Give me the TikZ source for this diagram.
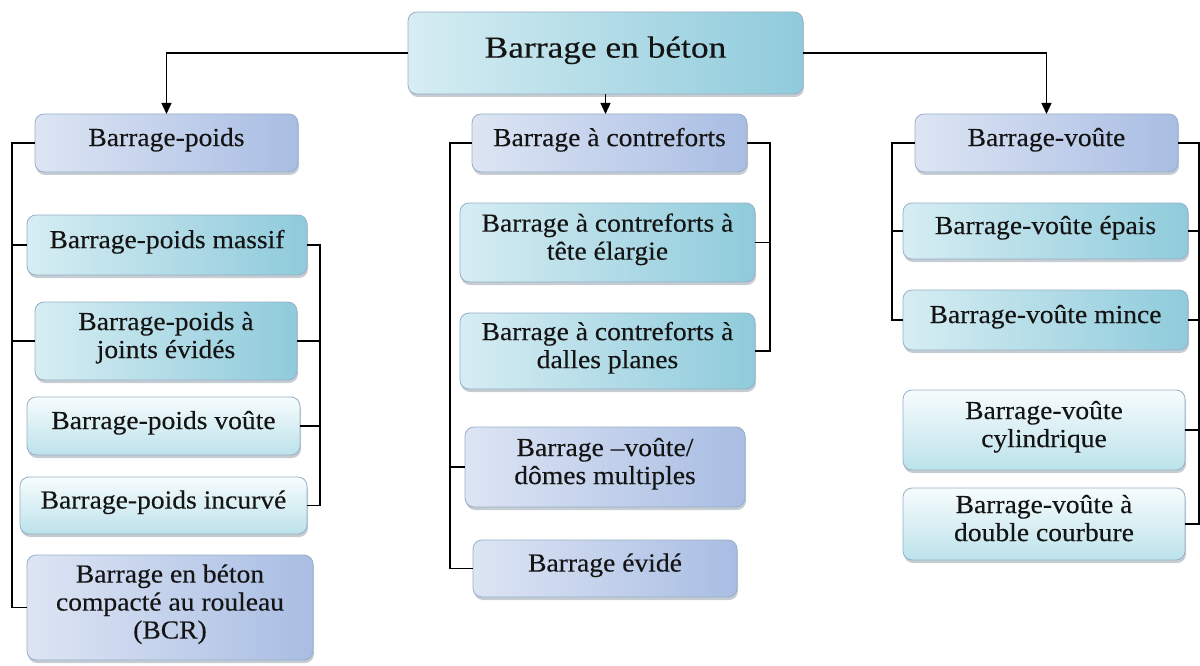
\documentclass[tikz,border=0pt]{standalone}
\usepackage{fontspec}
\setmainfont{Liberation Serif}[FakeStretch=1.06,FakeBold=0.25]
\newfontfamily\titlefont{Liberation Serif}[FakeStretch=1.16,FakeBold=0.25]
\usetikzlibrary{arrows.meta,shadows}
\definecolor{lavL}{HTML}{DDE5F4}
\definecolor{lavR}{HTML}{A9BDE3}
\definecolor{tealL}{HTML}{D6EDF3}
\definecolor{tealR}{HTML}{8FCBDB}
\definecolor{paleT}{HTML}{F7FCFD}
\definecolor{paleB}{HTML}{BCE2EB}
\definecolor{boxline}{HTML}{97B0C6}
\definecolor{shadowc}{HTML}{7F8E9C}
\definecolor{txt}{HTML}{141414}
\begin{document}
\begin{tikzpicture}[x=1pt,y=-1pt,
  box/.style={draw=boxline, line width=0.8pt, rounded corners=9pt, align=center,
    inner sep=2pt, outer sep=0pt, text=txt, font=\fontsize{26}{28}\selectfont,
    execute at end node={\rule[-12pt]{0pt}{1pt}},
    drop shadow={shadow xshift=1pt, shadow yshift=-3pt, opacity=0.45, fill=shadowc}},
  lav/.style={box, left color=lavL, right color=lavR},
  teal/.style={box, left color=tealL, right color=tealR},
  pale/.style={box, top color=paleT, bottom color=paleB},
  conn/.style={line width=1.3pt, black},
  arr/.style={conn, -{Triangle[width=10pt,length=11pt]}}
]
\useasboundingbox (0,0) rectangle (1200,666);

% top
\node[teal, font=\titlefont\fontsize{30.5}{34}\selectfont, minimum width=395pt, minimum height=82pt] (top) at (605.5,53) {Barrage en béton};

% heads
\node[lav, minimum width=263pt, minimum height=58pt] (poids) at (166.5,143) {Barrage-poids};
\node[lav, minimum width=275pt, minimum height=58pt] (cf) at (609.5,143) {Barrage à contreforts};
\node[lav, minimum width=263pt, minimum height=58pt] (voute) at (1046.5,143) {Barrage-voûte};

% left column
\node[teal, minimum width=280pt, minimum height=60pt] (massif) at (167,245) {Barrage-poids massif};
\node[teal, minimum width=262pt, minimum height=78pt] (joints) at (166,341) {Barrage-poids à\\joints évidés};
\node[pale, minimum width=273pt, minimum height=58pt] (pvoute) at (163.5,426) {Barrage-poids voûte};
\node[pale, minimum width=287pt, minimum height=57pt] (incurve) at (163.5,505.5) {Barrage-poids incurvé};
\node[lav, minimum width=286pt, minimum height=105pt] (bcr) at (170,607.5) {Barrage en béton\\compacté au rouleau\\(BCR)};

% center column
\node[teal, minimum width=295pt, minimum height=79pt] (tete) at (607.5,242.5) {Barrage à contreforts à\\tête élargie};
\node[teal, minimum width=295pt, minimum height=76pt] (dalles) at (607.5,351) {Barrage à contreforts à\\dalles planes};
\node[lav, minimum width=280pt, minimum height=80pt] (domes) at (605,467) {Barrage –voûte/\\dômes multiples};
\node[lav, minimum width=264pt, minimum height=57pt] (evide) at (605,568.5) {Barrage évidé};

% right column
\node[teal, minimum width=285pt, minimum height=56pt] (epais) at (1045.5,231) {Barrage-voûte épais};
\node[teal, minimum width=285pt, minimum height=60pt] (mince) at (1045.5,320) {Barrage-voûte mince};
\node[pale, minimum width=282pt, minimum height=80pt] (cyl) at (1044,430) {Barrage-voûte\\cylindrique};
\node[pale, minimum width=282pt, minimum height=72pt] (dbl) at (1044,524) {Barrage-voûte à\\double courbure};

% arrows from top
\draw[arr] (top.west) -| (poids.north);
\draw[arr] (top.east) -| (voute.north);
\draw[arr] (top.south) -- (top.south |- cf.north);

% bracket x positions
\coordinate (L1) at (12,0);
\coordinate (R1) at (320,0);
\coordinate (L2) at (450,0);
\coordinate (R2) at (770,0);
\coordinate (L3) at (892,0);
\coordinate (R3) at (1199,0);

% left column brackets
\draw[conn] (poids.west) -- (poids.west -| L1) -- (bcr.west -| L1) -- (bcr.west);
\draw[conn] (massif.west -| L1) -- (massif.west);
\draw[conn] (joints.west -| L1) -- (joints.west);
\draw[conn] (massif.east) -- (massif.east -| R1) -- (incurve.east -| R1) -- (incurve.east);
\draw[conn] (joints.east) -- (joints.east -| R1);
\draw[conn] (pvoute.east) -- (pvoute.east -| R1);

% center column brackets
\draw[conn] (cf.west) -- (cf.west -| L2) -- (evide.west -| L2) -- (evide.west);
\draw[conn] (domes.west -| L2) -- (domes.west);
\draw[conn] (cf.east) -- (cf.east -| R2) -- (dalles.east -| R2) -- (dalles.east);
\draw[conn] (tete.east) -- (tete.east -| R2);

% right column brackets
\draw[conn] (voute.west) -- (voute.west -| L3) -- (mince.west -| L3) -- (mince.west);
\draw[conn] (epais.west -| L3) -- (epais.west);
\draw[conn] (voute.east) -- (voute.east -| R3) -- (dbl.east -| R3) -- (dbl.east);
\draw[conn] (epais.east) -- (epais.east -| R3);
\draw[conn] (mince.east) -- (mince.east -| R3);
\draw[conn] (cyl.east) -- (cyl.east -| R3);
\end{tikzpicture}
\end{document}
